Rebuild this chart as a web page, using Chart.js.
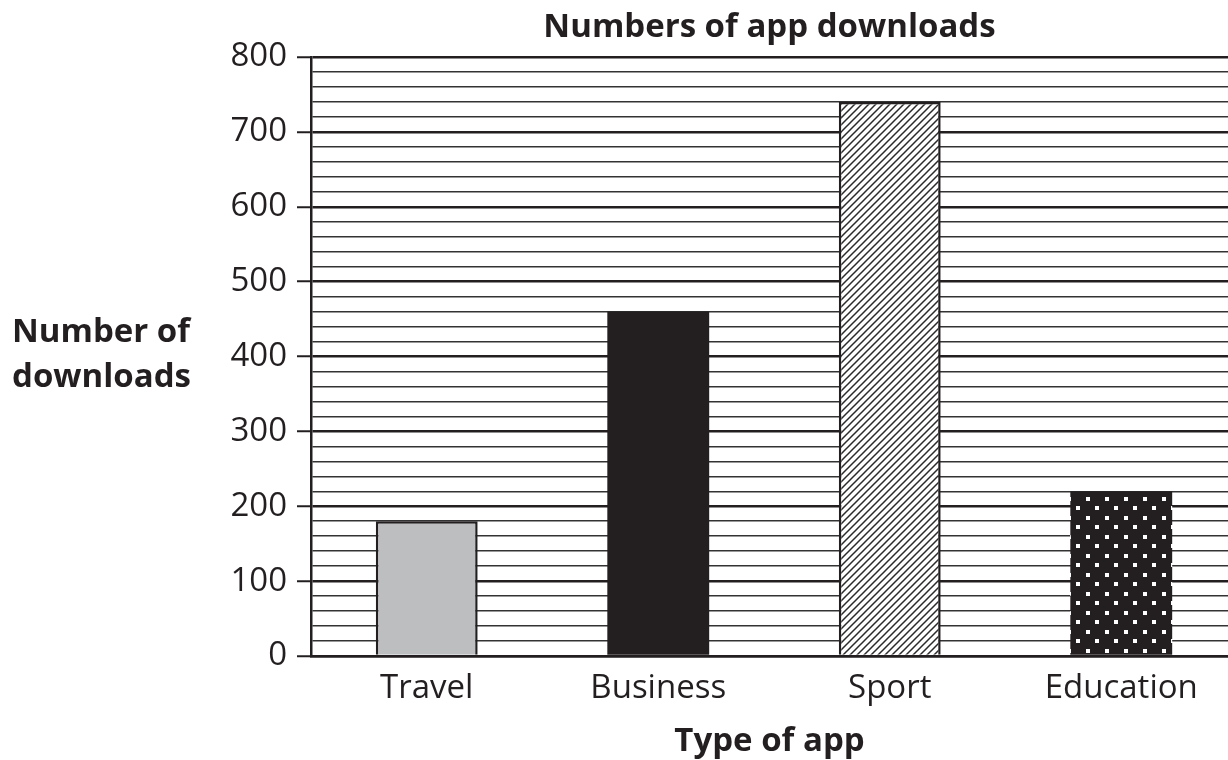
<!DOCTYPE html>
<html>
<head>
<meta charset="utf-8">
<script src="https://cdn.jsdelivr.net/npm/chart.js@4.4.1/dist/chart.umd.min.js"></script>
<style>
  html, body { margin: 0; padding: 0; background: #ffffff; overflow: hidden; }
  #wrap { width: 1228px; height: 760px; overflow: hidden; position: relative; }
  canvas { display: block; }
</style>
</head>
<body>
<div id="wrap"><canvas id="c" width="1237" height="760"></canvas></div>
<script>
// ---- data ----
const categories = ["Travel", "Business", "Sport", "Education"];
const downloads = [180, 460, 740, 220];
const yMin = 0;
const yMax = 800;
const yMinorStep = 20;
const yMajorStep = 100;

const chartTitle = "Numbers of app downloads";
const yTitleLines = ["Number of", "downloads"];
const xTitle = "Type of app";

// ---- styles ----
const INK = "#231F20";
const FONT = "'Open Sans', 'Noto Sans', sans-serif";

function hatchPattern() {
  const s = 7;
  const c = document.createElement("canvas");
  c.width = s; c.height = s;
  const g = c.getContext("2d");
  g.fillStyle = "#ffffff";
  g.fillRect(0, 0, s, s);
  g.strokeStyle = "#2b2b2b";
  g.lineWidth = 1.5;
  g.beginPath();
  g.moveTo(-1, s + 1); g.lineTo(s + 1, -1);
  g.moveTo(-1 - s, s + 1); g.lineTo(1, -1);
  g.moveTo(s - 1, s + 1); g.lineTo(s + s + 1, -1);
  g.stroke();
  return g.createPattern(c, "repeat");
}

function dotPattern() {
  const s = 19;
  const c = document.createElement("canvas");
  c.width = s; c.height = s;
  const g = c.getContext("2d");
  g.fillStyle = INK;
  g.fillRect(0, 0, s, s);
  g.fillStyle = "#ffffff";
  g.fillRect(3, 3, 4, 4);
  g.fillRect(12, 12, 4, 4);
  return g.createPattern(c, "repeat");
}

const fills = ["#BCBEC0", INK, hatchPattern(), dotPattern()];
const borders = [2.5, 0, 2.5, 0];

const textPlugin = {
  id: "texts",
  afterDraw(chart) {
    const ctx = chart.ctx;
    const a = chart.chartArea;
    const cx = (a.left + 1228) / 2;
    ctx.save();
    ctx.fillStyle = INK;
    ctx.textBaseline = "middle";
    ctx.font = "bold 33px " + FONT;
    ctx.textAlign = "center";
    ctx.fillText(chartTitle, cx, 28);
    ctx.fillText(xTitle, cx, 742);
    ctx.textAlign = "left";
    ctx.fillText(yTitleLines[0], 12, 333);
    ctx.fillText(yTitleLines[1], 12, 378);
    ctx.restore();
  }
};

new Chart(document.getElementById("c"), {
  type: "bar",
  data: {
    labels: categories,
    datasets: [{
      data: downloads,
      backgroundColor: fills,
      borderColor: INK,
      borderWidth: borders,
      borderSkipped: "bottom",
      categoryPercentage: 1.0,
      barPercentage: 0.44
    }]
  },
  options: {
    responsive: false,
    animation: false,
    devicePixelRatio: 1,
    layout: { padding: { left: 0, top: 57, right: 0, bottom: 0 } },
    plugins: {
      legend: { display: false },
      title: { display: false },
      tooltip: { enabled: false }
    },
    scales: {
      x: {
        afterFit(scale) { scale.height = 104; },
        grid: { display: false, drawTicks: false },
        border: { display: true, color: INK, width: 2.5 },
        ticks: {
          color: INK,
          font: { family: FONT, size: 33 },
          padding: 13
        }
      },
      y: {
        min: yMin,
        max: yMax,
        afterFit(scale) { scale.width = 311; },
        grid: {
          color: (ctx) => (ctx.tick && ctx.tick.value % yMajorStep === 0) ? INK : "#333333",
          lineWidth: (ctx) => (ctx.tick && ctx.tick.value % yMajorStep === 0) ? 2.5 : 1.5,
          tickColor: (ctx) => (ctx.tick && ctx.tick.value % yMajorStep === 0) ? INK : "rgba(0,0,0,0)",
          tickWidth: 2,
          tickLength: 14
        },
        border: { display: true, color: INK, width: 2.5 },
        ticks: {
          stepSize: yMinorStep,
          autoSkip: false,
          color: INK,
          padding: 10,
          font: { family: FONT, size: 33 },
          callback: (v) => (v % yMajorStep === 0) ? String(v) : ""
        }
      }
    }
  },
  plugins: [textPlugin]
});
</script>
</body>
</html>
